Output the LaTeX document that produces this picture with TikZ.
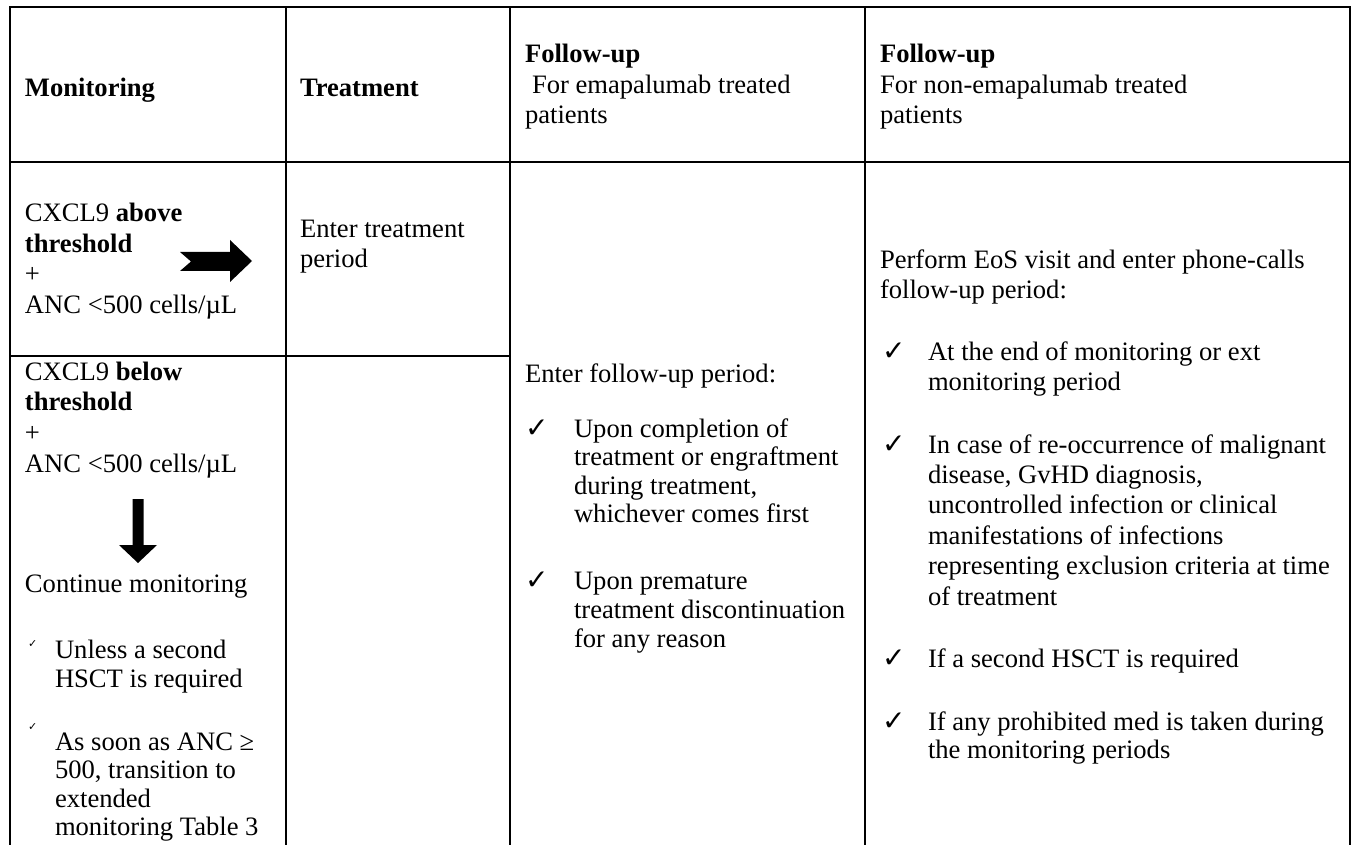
\documentclass[tikz,border=0pt]{standalone}
\usepackage{fontspec}
\setmainfont{Liberation Serif}
\newfontfamily\symfont{DejaVu Sans}
\newcommand\celllines[5]{% name, x, first baseline, spacing, lines
  \foreach \t [count=\i] in {#5} {\node[txt] (#1-\i) at (#2,{#3+(\i-1)*#4}) {\t};}}
\begin{document}
\begin{tikzpicture}[x=0.5pt,y=-0.5pt,
  txt/.style={anchor=base west,inner sep=0pt,outer sep=0pt,font=\fontsize{13.3}{16}\selectfont},
  chk/.style={anchor=base west,inner sep=0pt,outer sep=0pt,font=\symfont\fontsize{14}{16}\selectfont},
  smallchk/.style={anchor=base west,inner sep=0pt,outer sep=0pt,font=\symfont\fontsize{5.5}{6}\selectfont},
  rule/.style={line width=1.1pt,line cap=rect},
  blockarrow/.style={fill=black,draw=none}]
\useasboundingbox (0,0) rectangle (1354,845);
% grid
\draw[rule] (10,7) -- (1350,7);
\draw[rule] (10,162) -- (1350,162);
\draw[rule] (10,356) -- (510,356);
\foreach \xx in {10,286,510,865,1350} {\draw[rule] (\xx,7) -- (\xx,846);}
% header
\node[txt] (hmon) at (25,97) {\textbf{Monitoring}};
\node[txt] (htrt) at (300,97) {\textbf{Treatment}};
\node[txt] (hf1a) at (525,63) {\textbf{Follow-up}};
\node[txt] (hf1b) at (532,93.5) {For emapalumab treated};
\node[txt] (hf1c) at (525,124) {patients};
\celllines{hf2}{880}{63}{30.5}{{\textbf{Follow-up}},{For non-emapalumab treated},{patients}}
% column 1, row 1
\celllines{above}{25}{222}{30.4}{{CXCL9 \textbf{above}},{\textbf{threshold}},{+},{ANC <500 cells/µL}}
\fill[blockarrow] (180,252) -- (230,252) -- (230,240) -- (252,261) -- (230,282) -- (230,271) -- (180,271) -- (191,261.5) -- cycle;
% column 2, row 1
\celllines{enter}{300}{238}{29.5}{{Enter treatment},{period}}
% column 1, row 2
\celllines{below}{25}{380}{30.8}{{CXCL9 \textbf{below}},{\textbf{threshold}},{+},{ANC <500 cells/µL}}
\fill[blockarrow] (132.5,499) -- (143.5,499) -- (143.5,545) -- (157,545) -- (138,563) -- (119,545) -- (132.5,545) -- cycle;
\node[txt] (cont) at (25,592) {Continue monitoring};
\node[smallchk] (ck1) at (28,647) {✓};
\celllines{unless}{55}{658}{29}{{Unless a second},{HSCT is required}}
\node[smallchk] (ck2) at (28,730) {✓};
\celllines{soon}{55}{750}{28.5}{{As soon as ANC ≥},{500, transition to},{extended},{monitoring Table 3}}
% column 3
\node[txt] (fup) at (525,382) {Enter follow-up period:};
\node[chk] (ck3) at (525,437) {✓};
\celllines{compl}{574}{437}{28.5}{{Upon completion of},{treatment or engraftment},{during treatment,},{whichever comes first}}
\node[chk] (ck4) at (525,589) {✓};
\celllines{prem}{574}{589}{29}{{Upon premature},{treatment discontinuation},{for any reason}}
% column 4
\celllines{eos}{880}{269}{30}{{Perform EoS visit and enter phone-calls},{follow-up period:}}
\node[chk] (ck5) at (882,360) {✓};
\celllines{endm}{928}{360}{30}{{At the end of monitoring or ext},{monitoring period}}
\node[chk] (ck6) at (882,453) {✓};
\celllines{malig}{928}{453}{30.4}{{In case of re-occurrence of malignant},{disease, GvHD diagnosis,},{uncontrolled infection or clinical},{manifestations of infections},{representing exclusion criteria at time},{of treatment}}
\node[chk] (ck7) at (882,667) {✓};
\node[txt] (hsct) at (928,667) {If a second HSCT is required};
\node[chk] (ck8) at (882,730) {✓};
\celllines{proh}{928}{730}{28.5}{{If any prohibited med is taken during},{the monitoring periods}}
\end{tikzpicture}
\end{document}
